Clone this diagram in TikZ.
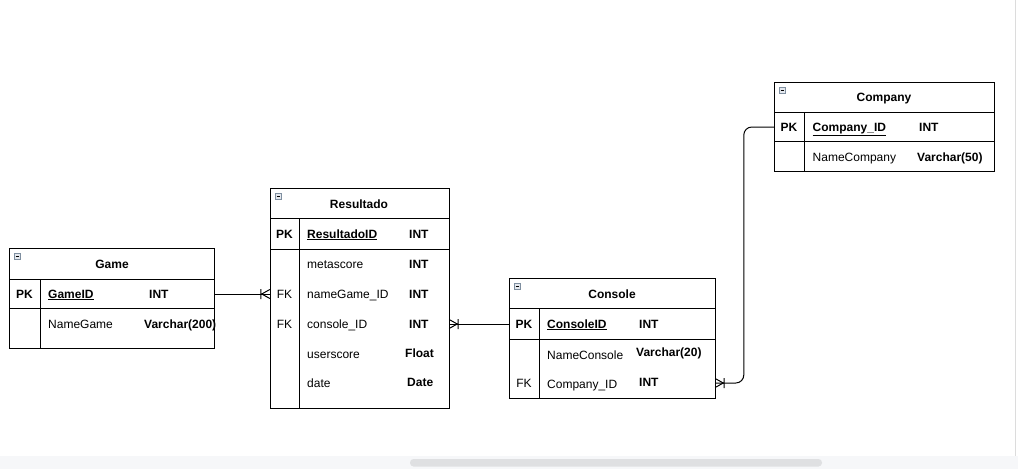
\documentclass[tikz,border=0pt]{standalone}
\usepackage{fontspec}
\setmainfont{Liberation Sans}
\definecolor{bandgray}{HTML}{F6F7F9}
\definecolor{thumbgray}{HTML}{DFE0E2}
\definecolor{edgegray}{HTML}{DCDCDC}
\definecolor{iconedge}{HTML}{7F8FA0}
\definecolor{iconfill}{HTML}{E4E8EE}
\begin{document}
\begin{tikzpicture}[x=1pt,y=-1pt,
  ln/.style={line width=1pt, draw=black},
  tbl/.style={draw=black, line width=1pt, anchor=north west, inner sep=0pt, fill=white},
  rowa/.style={inner sep=0pt, minimum height=30pt},
  lbl/.style={anchor=base west, inner sep=0pt, font=\fontsize{12}{14}\selectfont},
  lblb/.style={lbl, font=\fontsize{12}{14}\selectfont\bfseries},
  hdr/.style={anchor=base, inner sep=0pt, font=\fontsize{12}{14}\selectfont\bfseries},
  ctr/.style={anchor=base, inner sep=0pt, font=\fontsize{12}{14}\selectfont},
  collapse/.pic={\draw[iconedge, fill=iconfill, line width=0.8pt] (0,0) rectangle (6,6);
                 \draw[black, line width=0.8pt] (1.5,3) -- (4.5,3);},
  crowfoot/.pic={\draw[line width=1pt] (-8,0) -- (0,-4.5) (-8,0) -- (0,4.5) (-9,-5) -- (-9,5);}
]
\useasboundingbox (0,0) rectangle (1018,469);
% window chrome
\fill[bandgray] (0,456) rectangle (1018,469);
\fill[thumbgray, rounded corners=3.5pt] (410,459) rectangle (822,466.5);
\draw[edgegray, line width=1.5pt] (1015.5,0) -- (1015.5,456);

% ---------------- Game ----------------
\node[tbl, minimum width=205pt, minimum height=100pt] (game) at (9,248) {};
\draw[ln] (9,279) -- (214,279) (9,308) -- (214,308) (40,279) -- (40,348);
\pic at (14,253) {collapse};
\node[rowa, minimum width=205pt] (gamepk) at (111.5,294) {};
\node[hdr] (gameT) at (112,268) {Game};
\node[hdr] (gamePKl) at (24.5,298) {PK};
\node[lblb] (gameID) at (48,298) {\underline{GameID}};
\node[lblb] (gameIDt) at (149,298) {INT};
\node[lbl] (gameN) at (48,328) {NameGame};
\node[lblb] (gameNt) at (144,328) {Varchar(200)};

% ---------------- Resultado ----------------
\node[tbl, minimum width=179pt, minimum height=220pt] (res) at (270,188) {};
\draw[ln] (270,218) -- (449,218) (270,249) -- (449,249) (299,218) -- (299,408);
\pic at (275,193) {collapse};
\node[rowa, minimum width=179pt] (resng) at (359.5,294) {};
\node[rowa, minimum width=179pt] (resco) at (359.5,324) {};
\node[hdr] (resT) at (359,208) {Resultado};
\node[hdr] (resPKl) at (284.5,238) {PK};
\node[lblb] (resID) at (307,238) {\underline{ResultadoID}};
\node[lblb] (resIDt) at (409,238) {INT};
\node[lbl] (resM) at (307,268) {metascore};
\node[lblb] (resMt) at (409,268) {INT};
\node[ctr] (resFK1) at (284.5,298) {FK};
\node[lbl] (resG) at (307,298) {nameGame\_ID};
\node[lblb] (resGt) at (409,298) {INT};
\node[ctr] (resFK2) at (284.5,328) {FK};
\node[lbl] (resC) at (307,328) {console\_ID};
\node[lblb] (resCt) at (409,328) {INT};
\node[lbl] (resU) at (307,358.5) {userscore};
\node[lblb] (resUt) at (405,357.5) {Float};
\node[lbl] (resD) at (307,387.5) {date};
\node[lblb] (resDt) at (407,386) {Date};

% ---------------- Console ----------------
\node[tbl, minimum width=206pt, minimum height=120pt] (con) at (509,278) {};
\draw[ln] (509,308) -- (715,308) (509,339) -- (715,339) (539,308) -- (539,398);
\pic at (514,283) {collapse};
\node[rowa, minimum width=206pt] (conpk) at (612,324) {};
\node[rowa, minimum width=206pt] (concid) at (612,383) {};
\node[hdr] (conT) at (612,298) {Console};
\node[hdr] (conPKl) at (524,328) {PK};
\node[lblb] (conID) at (547,328) {\underline{ConsoleID}};
\node[lblb] (conIDt) at (639,328) {INT};
\node[lbl] (conN) at (547,359) {NameConsole};
\node[lblb] (conNt) at (636,356) {Varchar(20)};
\node[ctr] (conFK) at (524,387.5) {FK};
\node[lbl] (conC) at (547,388) {Company\_ID};
\node[lblb] (conCt) at (639,386) {INT};

% ---------------- Company ----------------
\node[tbl, minimum width=220pt, minimum height=89pt] (cmp) at (774,82) {};
\draw[ln] (774,112) -- (994,112) (774,141) -- (994,141) (804,112) -- (804,171);
\pic at (779,87) {collapse};
\node[rowa, minimum width=220pt] (cmppk) at (884,127) {};
\node[hdr] (cmpT) at (884,101) {Company};
\node[hdr] (cmpPKl) at (789,131) {PK};
\node[lblb] (cmpID) at (812.5,131) {\underline{Company\_ID}};
\node[lblb] (cmpIDt) at (919,131) {INT};
\node[lbl] (cmpN) at (812.5,161) {NameCompany};
\node[lblb] (cmpNt) at (917,161) {Varchar(50)};

% ---------------- connectors ----------------
\draw[ln] (gamepk.east) -- (resng.west);
\pic at (resng.west) {crowfoot};
\draw[ln] (conpk.west) -- (resco.east);
\pic[rotate=180] at (resco.east) {crowfoot};
\draw[ln, rounded corners=8pt] (cmppk.west) -- ([xshift=-30pt]cmppk.west) |- (concid.east);
\pic[rotate=180] at (concid.east) {crowfoot};
\end{tikzpicture}
\end{document}
